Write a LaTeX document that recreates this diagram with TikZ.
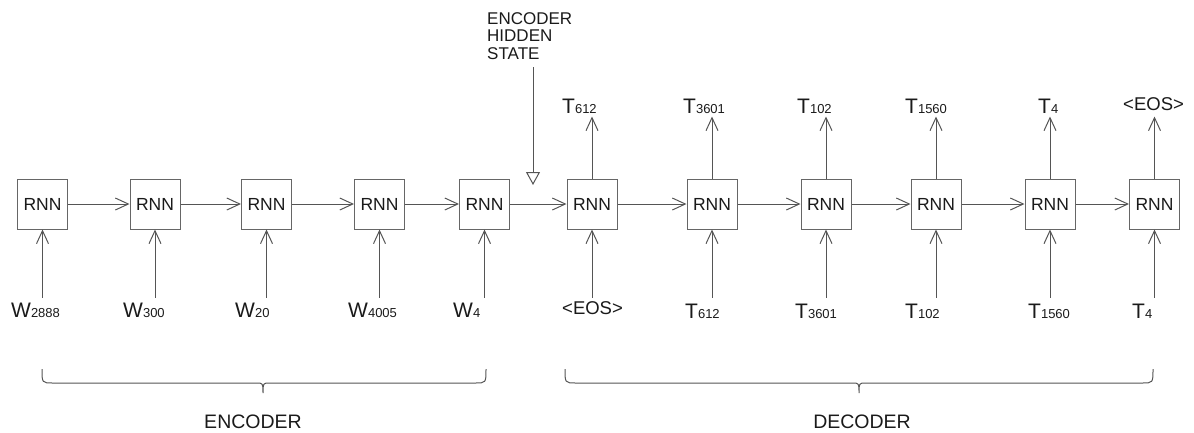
\documentclass[tikz,border=0pt]{standalone}
\usepackage{fontspec}
\setmainfont{Liberation Sans}
\usetikzlibrary{arrows.meta,calc}
\definecolor{linegray}{HTML}{555555}
\definecolor{boxgray}{HTML}{666666}
\definecolor{txt}{HTML}{1A1A1A}
\newcommand\lbl[2]{{\fontsize{21}{21}\selectfont #1}{\fontsize{13}{13}\selectfont #2}}
\newcommand\eos{{\fontsize{18.5}{18.5}\selectfont <EOS>}}
\tikzset{
  rnn/.style={draw=boxgray, line width=1pt, fill=white, minimum width=50pt, minimum height=50pt, inner sep=0pt, text=txt, font=\fontsize{17.5}{17.5}\selectfont},
  arr/.style={draw=linegray, line width=1pt, -{Straight Barb[length=13pt,width=12pt,line width=1pt]}},
  hsarr/.style={draw=linegray, line width=1pt, -{Triangle[open,length=13pt,width=14pt,line width=1pt,fill=white]}},
  lab/.style={anchor=base west, inner sep=0pt, text=txt},
  brace/.style={draw=linegray, line width=1pt},
  part/.style={anchor=base, inner sep=0pt, text=txt, font=\fontsize{19.5}{19.5}\selectfont}
}
\begin{document}
\begin{tikzpicture}[x=1pt,y=-1pt]
\useasboundingbox (0,0) rectangle (1194,432);
% RNN boxes
\foreach \i/\x in {1/42.5,2/155,3/266.5,4/379.5,5/484.5,6/592,7/712,8/826,9/936,10/1050,11/1154.5}
  \node[rnn] (b\i) at (\x,204) {RNN};
% horizontal connections
\foreach \i [evaluate=\i as \j using int(\i+1)] in {1,...,10}
  \draw[arr] (b\i.east) -- (b\j.west);
% bottom labels
\node[lab] (in1) at (11,317) {\lbl{W}{2888}};
\node[lab] (in2) at (123,317) {\lbl{W}{300}};
\node[lab] (in3) at (235,317) {\lbl{W}{20}};
\node[lab] (in4) at (348,317) {\lbl{W}{4005}};
\node[lab] (in5) at (453,317) {\lbl{W}{4}};
\node[lab] (in6) at (562,314.5) {\eos};
\node[lab] (in7) at (685,318) {\lbl{T}{612}};
\node[lab] (in8) at (795,318) {\lbl{T}{3601}};
\node[lab] (in9) at (905,318) {\lbl{T}{102}};
\node[lab] (in10) at (1028,318) {\lbl{T}{1560}};
\node[lab] (in11) at (1132,318) {\lbl{T}{4}};
% input arrows
\foreach \i in {1,...,11}
  \draw[arr] ($(b\i.south)+(0,68)$) coordinate (s\i) -- (b\i.south);
% top labels
\node[lab] (out6) at (562,113) {\lbl{T}{612}};
\node[lab] (out7) at (683,113) {\lbl{T}{3601}};
\node[lab] (out8) at (797,113) {\lbl{T}{102}};
\node[lab] (out9) at (905,113) {\lbl{T}{1560}};
\node[lab] (out10) at (1038,113) {\lbl{T}{4}};
\node[lab] (out11) at (1123,110) {\eos};
% output arrows
\foreach \i in {6,...,11}
  \draw[arr] (b\i.north) -- ($(b\i.north)+(0,-62)$) coordinate (e\i);
% encoder hidden state
\node[anchor=north west, inner sep=0pt, align=left, text=txt, font=\fontsize{17}{17.5}\selectfont] (hs) at (487,12) {ENCODER\\HIDDEN\\STATE};
\coordinate (hstop) at (533,67);
\coordinate (hstip) at (533,185);
\draw[hsarr] (hstop) -- (hstip);
% braces
\draw[brace] (42,369) .. controls (42,383) .. (53,383) -- (256,383) .. controls (263,383) .. (263,393) .. controls (263,383) .. (270,383) -- (475,383) .. controls (486,383) .. (486,369);
\draw[brace] (565,369) .. controls (565,383) .. (576,383) -- (852,383) .. controls (859,383) .. (859,393) .. controls (859,383) .. (866,383) -- (1142,383) .. controls (1153,383) .. (1153,369);
\node[part] (enc) at (253,428) {ENCODER};
\node[part] (dec) at (862,428) {DECODER};
\end{tikzpicture}
\end{document}
